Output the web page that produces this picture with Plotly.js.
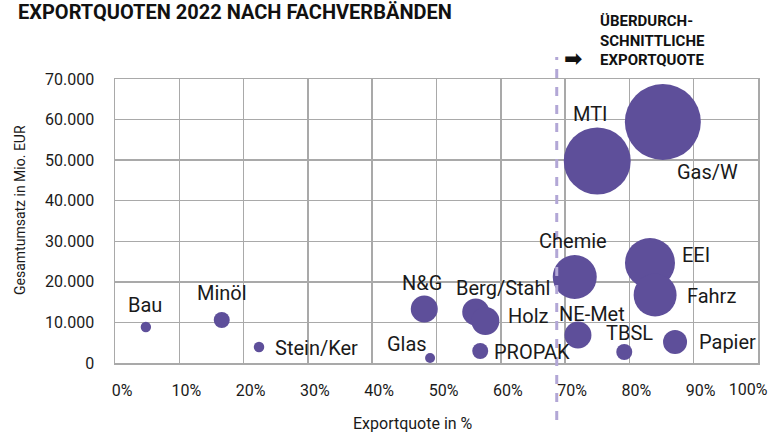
<!DOCTYPE html>
<html>
<head>
<meta charset="utf-8">
<script src="https://cdn.plot.ly/plotly-3.0.1.min.js"></script>
<style>html,body{margin:0;padding:0;background:#fff;}#chart{width:769px;height:433px;}</style>
</head>
<body>
<div id="chart"></div>
<script>
// ---- data ----
const verbaende = ["Bau","Minöl","Stein/Ker","Glas","N&G","Berg/Stahl","Holz","PROPAK","Chemie","NE-Met","TBSL","Papier","MTI","Gas/W","EEI","Fahrz"];
const exportquote = [4.8, 16.6, 22.4, 49.0, 48.1, 56.1, 57.6, 56.8, 71.5, 72.0, 79.2, 87.1, 75.0, 85.2, 83.2, 84.0]; // %
const umsatz = [8870, 10600, 3940, 1230, 13300, 12570, 10350, 2960, 21200, 6900, 2710, 5180, 49800, 59400, 24650, 16760]; // Mio. EUR
const exportvolumen = [950, 2260, 975, 880, 6440, 6440, 6920, 2260, 17100, 6440, 2260, 5090, 39600, 51000, 22100, 16300]; // bubble size, Mio. EUR
const durchschnittQuote = 68.7; // %
const xTickVals = [0,10,20,30,40,50,60,70,80,90];
const xTickText = ["0%","10%","20%","30%","40%","50%","60%","70%","80%","90%"];
const xLastTickVal = [100];
const xLastTickText = ["100%"];
const yTickVals = [0,10000,20000,30000,40000,50000,60000,70000];

// ---- label placement (pixel offsets from bubble centre) ----
const labelDx = [-1, 0, 14, -23, -2, 27, 21, 12, -2, 14, 5, 22, -7, 45, 30, 30];
const labelDy = [22, 27, -1, 14, 26, 24, 5, -1, 36, 21, 19, 0, 47, -50, 8, -1];
const labelAnchor = ["center","center","left","center","center","center","left","left","center","center","center","left","center","center","left","left"];

const purple = "#5e4f9a";
const grid = "#a9a9a9";
const FONT = "Roboto, 'DejaVu Sans', sans-serif";

const trace = {
  type: "scatter",
  mode: "markers",
  x: exportquote,
  y: umsatz,
  text: verbaende,
  hoverinfo: "text",
  marker: {
    size: exportvolumen,
    sizemode: "area",
    sizeref: 17.66,
    color: purple,
    opacity: 1,
    line: {width: 0}
  }
};
// empty trace so the overlay axis carrying the last tick label is drawn
const axisTrace = {type: "scatter", mode: "markers", x: [], y: [], xaxis: "x2", yaxis: "y", hoverinfo: "skip"};

const annotations = verbaende.map((name, i) => ({
  x: exportquote[i], y: umsatz[i], xref: "x", yref: "y",
  text: name, showarrow: false,
  xanchor: labelAnchor[i], yanchor: "middle",
  xshift: labelDx[i], yshift: labelDy[i],
  font: {family: FONT, size: 20, color: "#1a1a1a"}
}));

annotations.push(
  {xref: "paper", yref: "paper", x: (16-115)/643, y: (363-12)/284, xanchor: "left", yanchor: "middle",
   text: "<b>EXPORTQUOTEN 2022 NACH FACHVERBÄNDEN</b>", showarrow: false,
   font: {family: FONT, size: 20, color: "#111"}},
  {xref: "paper", yref: "paper", x: (598-115)/643, y: (363-40)/284, xanchor: "left", yanchor: "middle",
   align: "left",
   text: "<b>ÜBERDURCH-<br>SCHNITTLICHE<br>EXPORTQUOTE</b>", showarrow: false,
   font: {family: FONT, size: 15, color: "#111"}},
  {xref: "x", yref: "paper", x: durchschnittQuote, y: (363-58)/284, xanchor: "left", yanchor: "middle", xshift: 5,
   text: "<b>➡</b>", showarrow: false,
   font: {family: "'DejaVu Sans', sans-serif", size: 22, color: "#111"}},
  {xref: "paper", yref: "paper", x: (413-115)/643, y: (363-423)/284, xanchor: "center", yanchor: "middle",
   text: "Exportquote in %", showarrow: false,
   font: {family: FONT, size: 16, color: "#1a1a1a"}},
  {xref: "paper", yref: "paper", x: (20-115)/643, y: (363-210)/284, xanchor: "center", yanchor: "middle",
   text: "Gesamtumsatz in Mio. EUR", textangle: -90, showarrow: false,
   font: {family: FONT, size: 14, color: "#1a1a1a"}}
);

const xCommon = {
  range: [0, 100], zeroline: false, ticks: "outside", ticklen: 12, tickcolor: "rgba(0,0,0,0)",
  tickfont: {family: FONT, size: 16, color: "#1a1a1a"},
  automargin: false, fixedrange: true
};

const layout = {
  width: 769, height: 433,
  margin: {l: 115, r: 11, t: 79, b: 70, pad: 0},
  paper_bgcolor: "#fff", plot_bgcolor: "#fff",
  separators: ",.",
  showlegend: false,
  font: {family: FONT, size: 16, color: "#1a1a1a"},
  xaxis: Object.assign({}, xCommon, {
    tickvals: xTickVals, ticktext: xTickText,
    showgrid: true, gridcolor: grid, gridwidth: 1.5,
    showline: true, linecolor: grid, linewidth: 1.5, mirror: true,
    ticklabelshift: 7
  }),
  xaxis2: Object.assign({}, xCommon, {
    overlaying: "x", anchor: "y", side: "bottom",
    tickvals: xLastTickVal, ticktext: xLastTickText,
    showgrid: false, showline: false,
    ticklabelshift: -10, ticklabeloverflow: "allow"
  }),
  yaxis: {
    range: [0, 70000], tickvals: yTickVals, tickformat: ",d",
    showgrid: true, gridcolor: grid, gridwidth: 1.5,
    showline: true, linecolor: grid, linewidth: 1.5, mirror: true,
    zeroline: false, ticks: "outside", ticklen: 16, tickcolor: "rgba(0,0,0,0)",
    tickfont: {family: FONT, size: 16, color: "#1a1a1a"},
    automargin: false, fixedrange: true
  },
  shapes: [{
    type: "line", xref: "x", yref: "paper",
    x0: durchschnittQuote, x1: durchschnittQuote, y0: (363-420)/284, y1: (363-57)/284,
    line: {color: "#b2a7d6", width: 3, dash: "dash"}
  }],
  annotations: annotations
};

Plotly.newPlot("chart", [trace, axisTrace], layout, {staticPlot: true, displayModeBar: false});
</script>
</body>
</html>
